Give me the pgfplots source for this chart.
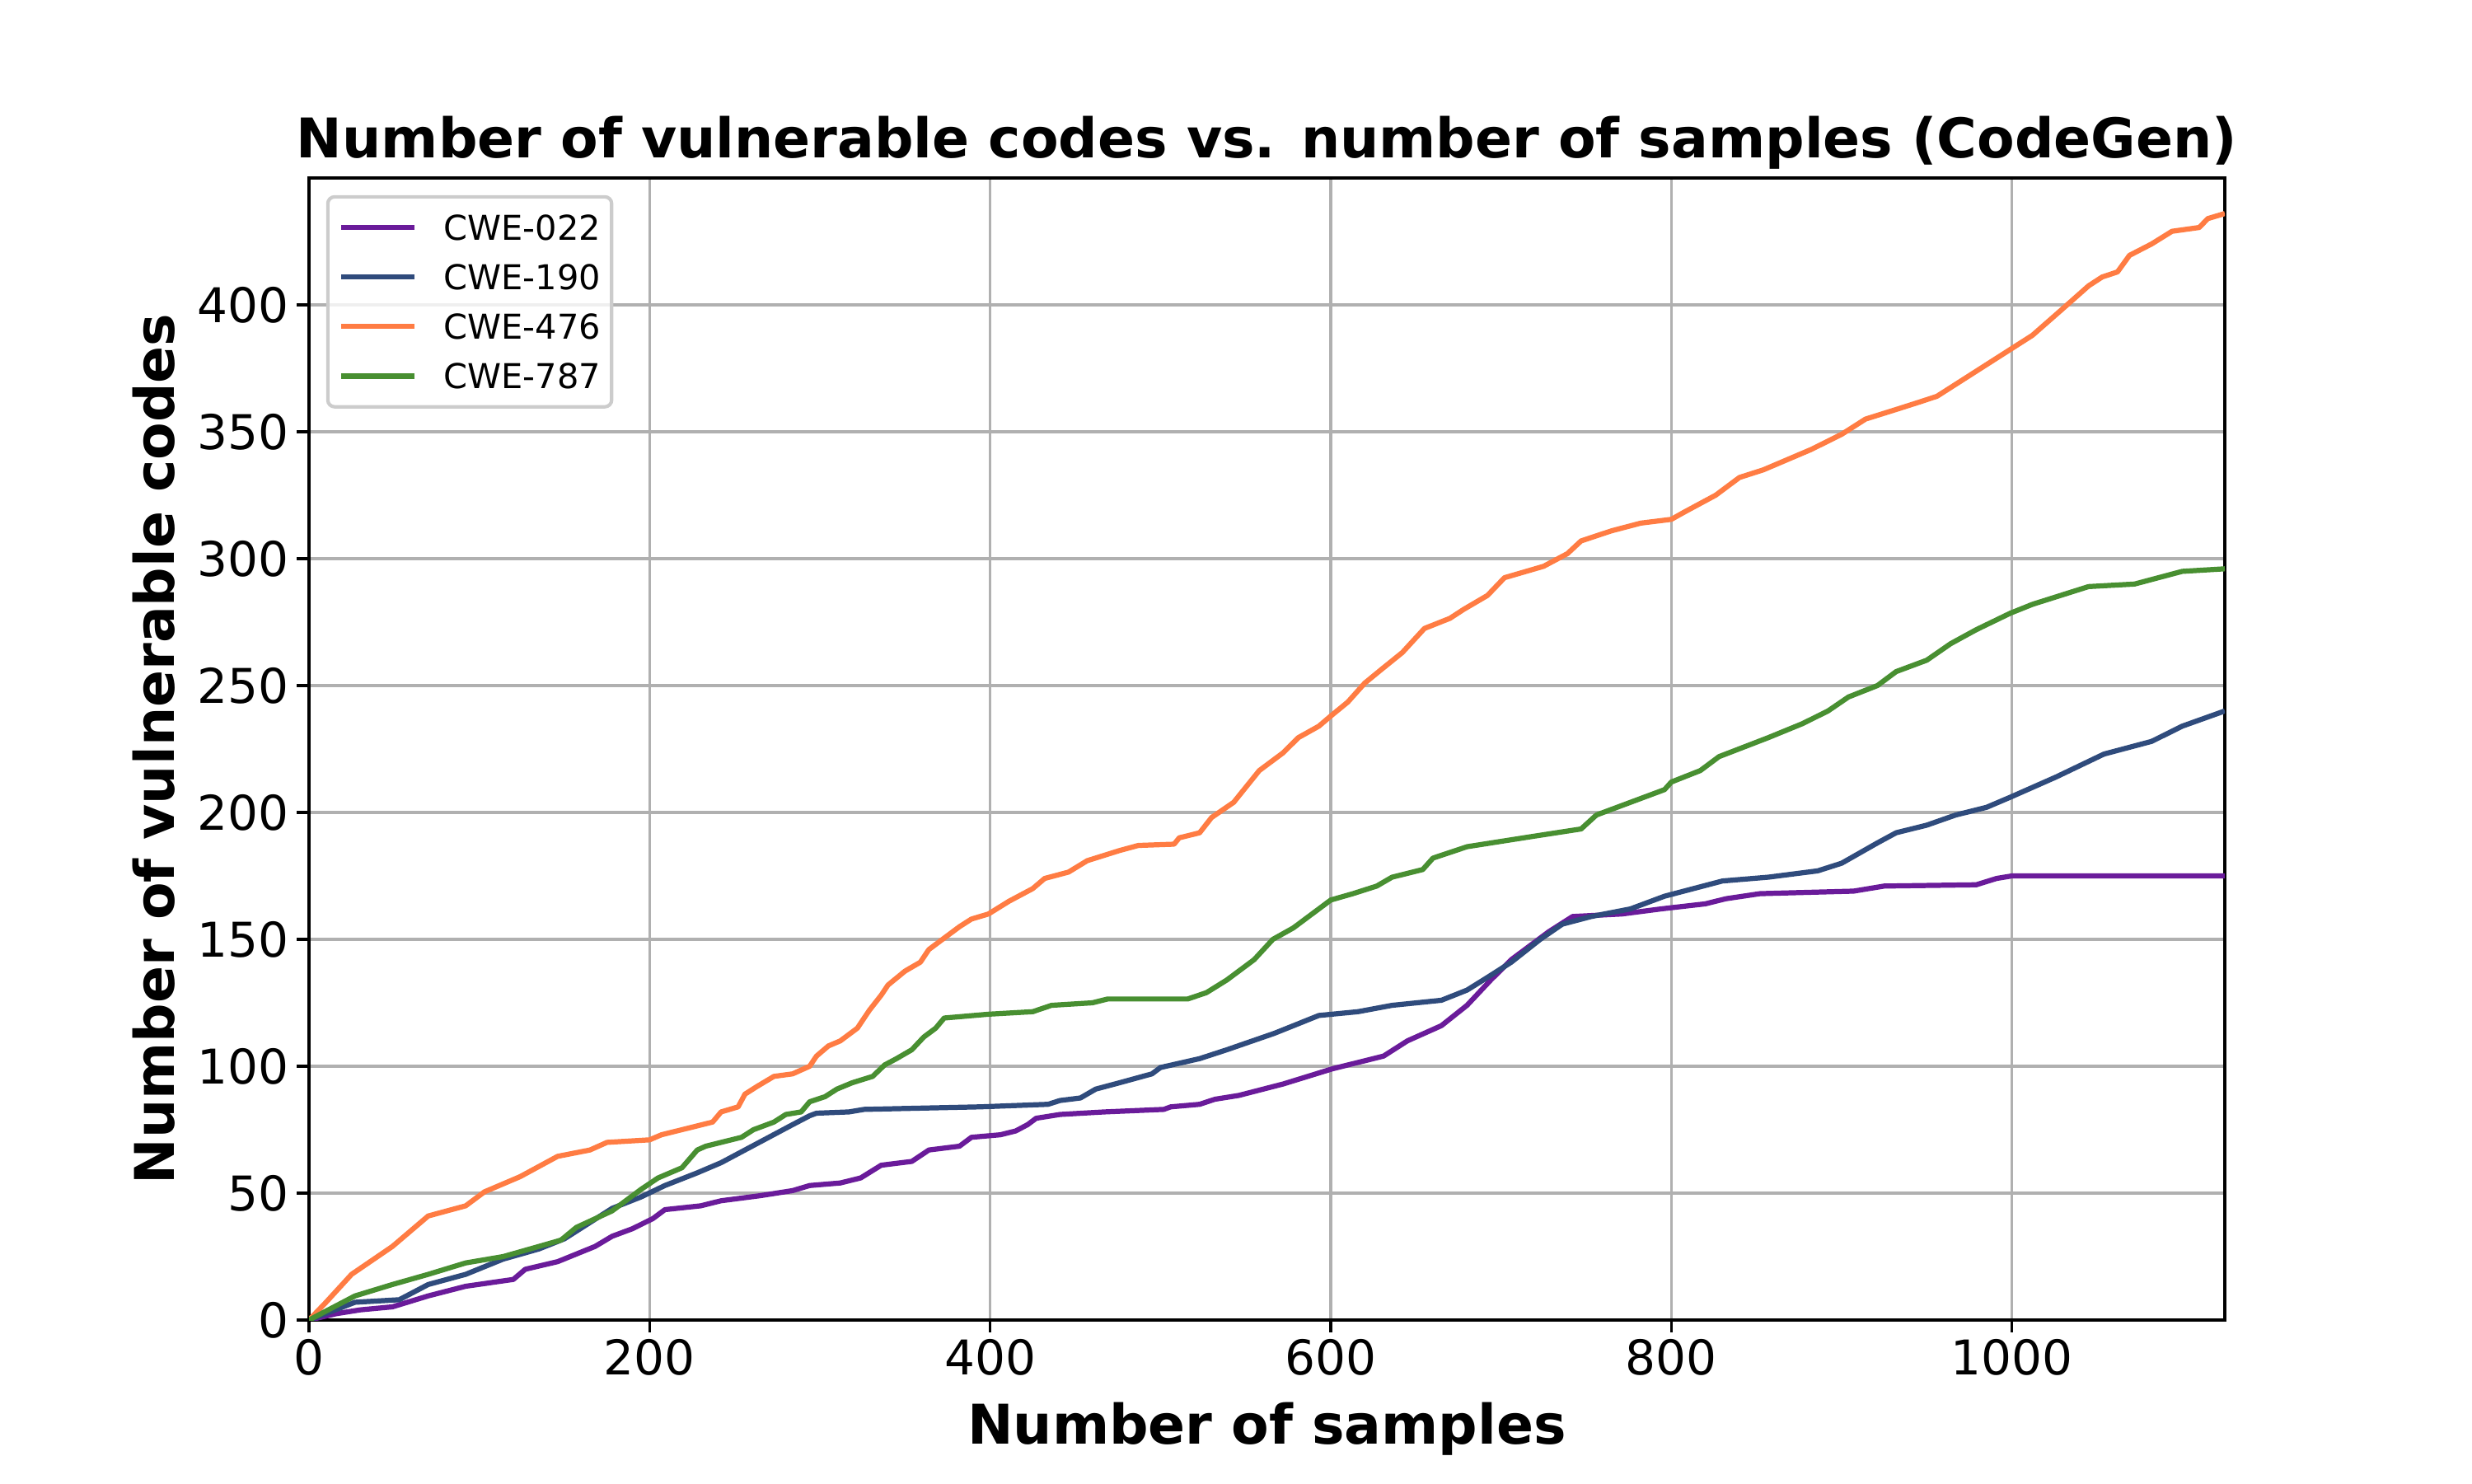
\documentclass[border=0pt]{standalone}
\usepackage{fontspec}
\setmainfont{DejaVu Sans}
\usepackage{pgfplots}
\pgfplotsset{compat=1.18}
\definecolor{cpurple}{HTML}{6A1B9A}
\definecolor{cblue}{HTML}{2F4B7C}
\definecolor{corange}{HTML}{FF7C43}
\definecolor{cgreen}{HTML}{488F31}
\definecolor{gridgray}{HTML}{B0B0B0}
\definecolor{leggray}{HTML}{CCCCCC}
\begin{document}
\begin{tikzpicture}
\path[use as bounding box] (-1.25in,-0.66in) rectangle (8.75in,5.34in);
\begin{axis}[
  at={(0,0)}, anchor=south west,
  scale only axis,
  width=7.75in, height=4.62in,
  xmin=0, xmax=1125, ymin=0, ymax=450,
  xtick={0,200,400,600,800,1000},
  ytick={0,50,100,150,200,250,300,350,400},
  xtick pos=bottom, ytick pos=left,
  scaled ticks=false,
  /pgf/number format/assume math mode=true,
  /pgf/number format/1000 sep={},
  tick align=outside,
  major tick length=3.5pt,
  every tick/.style={black, line width=0.8pt},
  axis line style={black, line width=0.8pt},
  grid=major,
  major grid style={gridgray, line width=0.8pt},
  ticklabel style={font=\fontsize{14}{16}\selectfont},
  xticklabel style={anchor=north, inner sep=0pt, yshift=-2pt},
  yticklabel style={anchor=east, inner sep=0pt, xshift=-2.3pt},
  xlabel={Number of samples},
  xlabel style={at={(axis description cs:0.5,0)}, anchor=north, yshift=-24pt, inner sep=0pt, font=\fontsize{16}{19}\selectfont\bfseries},
  legend cell align=left,
  legend style={at={(axis description cs:0,1)}, anchor=north west, xshift=5pt, yshift=-5pt,
    draw=leggray, line width=1pt, rounded corners=2pt,
    fill=white, fill opacity=0.8, draw opacity=1, text opacity=1,
    inner xsep=3.2pt, inner ysep=5.3pt,
    font=\fontsize{10}{12}\selectfont,
    nodes={inner sep=0pt, text height=7.3pt, text depth=0pt},
    row sep=7.2pt, column sep=7.8pt},
  legend image code/.code={\draw[#1, line width=1.5pt] (0pt,0pt) -- (21.4pt,0pt);},
  every axis plot/.append style={line width=1.5pt, line join=round},
]
\addplot[cpurple] coordinates {
(0,0) (16,2.5) (30,4) (49,5.2) (70,9.5) (92,13.3) (120,16) (127,20) (146,23) (168,29)
(178,33) (190,36) (202,40) (209,43.5) (230,45) (242,47) (265,49) (284,51) (294,53) (312,54)
(324,56) (336,61) (354,62.5) (364,67) (382,68.5) (389,72) (406,73) (415,74.5) (422,77) (427,79.5)
(441,81) (467,82) (502,83) (506,84) (523,85) (532,87) (546,88.5) (572,93) (601,99) (631,104)
(645,110) (665,116) (680,124) (694,134) (706,142) (728,153) (742,159) (771,160) (794,162) (820,164)
(832,166) (852,168) (907,169) (925,171) (979,171.5) (991,174) (1000,175) (1125,175)
};
\addlegendentry{CWE-022}
\addplot[cblue] coordinates {
(0,0) (27,7) (53,8) (70,14) (92,18) (114,24) (135,28) (150,32) (178,44) (195,48.5)
(209,53) (228,58) (242,62) (256,67) (270,72) (284,77) (294,80.5) (298,81.5) (317,82) (326,83)
(394,84) (434,85) (441,86.5) (453,87.5) (462,91) (476,93.5) (495,97) (500,99.5) (523,103) (539,106.5)
(567,113) (593,120) (616,121.5) (636,124) (665,126) (680,130) (692,135) (706,141) (723,150) (736,156)
(753,159) (776,162) (796,167) (830,173) (857,174.5) (886,177) (900,180) (921,188) (932,192) (950,195)
(967,199) (985,202) (999,206) (1026,214) (1054,223) (1082,228) (1100,234) (1125,240)
};
\addlegendentry{CWE-190}
\addplot[corange] coordinates {
(0,0) (10,7) (25,18) (49,29) (70,41) (92,45) (103,50.5) (124,56.5) (146,64.5) (165,67)
(175,70) (200,71) (207,73) (219,75) (237,78) (242,82) (252,84) (256,89) (263,92) (273,96)
(284,97) (294,100) (298,104) (305,108) (312,110) (322,115) (329,122) (336,128) (340,132) (350,137.5)
(359,141) (364,146) (373,150.5) (382,155) (389,158) (399,160) (411,165) (425,170) (432,174) (446,176.5)
(457,181) (476,185) (487,187) (508,187.5) (511,190) (523,192) (530,198) (543,204) (558,216.5) (572,223.5)
(581,229.5) (593,234) (600,238) (610,243.5) (620,251) (630,256.5) (642,263) (655,272.5) (670,276.5) (678,280)
(692,285.5) (702,292.5) (725,297) (739,302) (747,307) (765,311) (782,314) (800,315.5) (808,318.5) (826,325)
(840,332) (854,335) (868,339) (882,343) (900,349) (914,355) (933,359) (947,362) (956,364) (970,370)
(984,376) (998,382) (1012,388) (1029,398) (1045,407.5) (1053,411) (1062,413) (1069,419.5) (1082,424) (1094,429)
(1110,430.5) (1115,434) (1125,436)
};
\addlegendentry{CWE-476}
\addplot[cgreen] coordinates {
(0,0) (27,9.5) (49,14) (70,18) (92,22.5) (114,25) (135,29) (148,31.5) (157,36.5) (178,43)
(195,51.5) (205,56) (219,60) (228,67) (233,68.5) (254,72) (261,75) (273,78) (280,81) (289,82)
(294,86) (303,88) (310,91) (319,93.5) (331,96) (338,100.5) (345,103) (354,106.5) (361,111.5) (368,115)
(373,119) (399,120.5) (425,121.5) (436,124) (460,125) (469,126.5) (516,126.5) (527,129) (539,134) (546,137.5)
(555,142) (566,150) (578,154.5) (590,160.5) (600,165.5) (613,168) (627,171) (636,174.5) (654,177.5) (660,182)
(680,186.5) (718,190.5) (747,193.5) (756,199) (776,204) (796,209) (800,212) (817,216.5) (828,222) (857,229.5)
(877,235) (892,240) (904,245.5) (921,250) (932,255.5) (950,260) (964,266.5) (979,272) (999,278.5) (1012,282)
(1045,289) (1072,290) (1100,295) (1125,296)
};
\addlegendentry{CWE-787}
\end{axis}
\node[anchor=base, inner sep=0pt, font=\fontsize{16}{19}\selectfont\bfseries] at (3.875in,{4.62in+5.8pt}) {Number of vulnerable codes vs. number of samples (CodeGen)};
\node[anchor=south, rotate=90, inner sep=0pt, font=\fontsize{16}{19}\selectfont\bfseries] at (-39pt,2.31in) {Number of vulnerable codes};
\end{tikzpicture}
\end{document}
